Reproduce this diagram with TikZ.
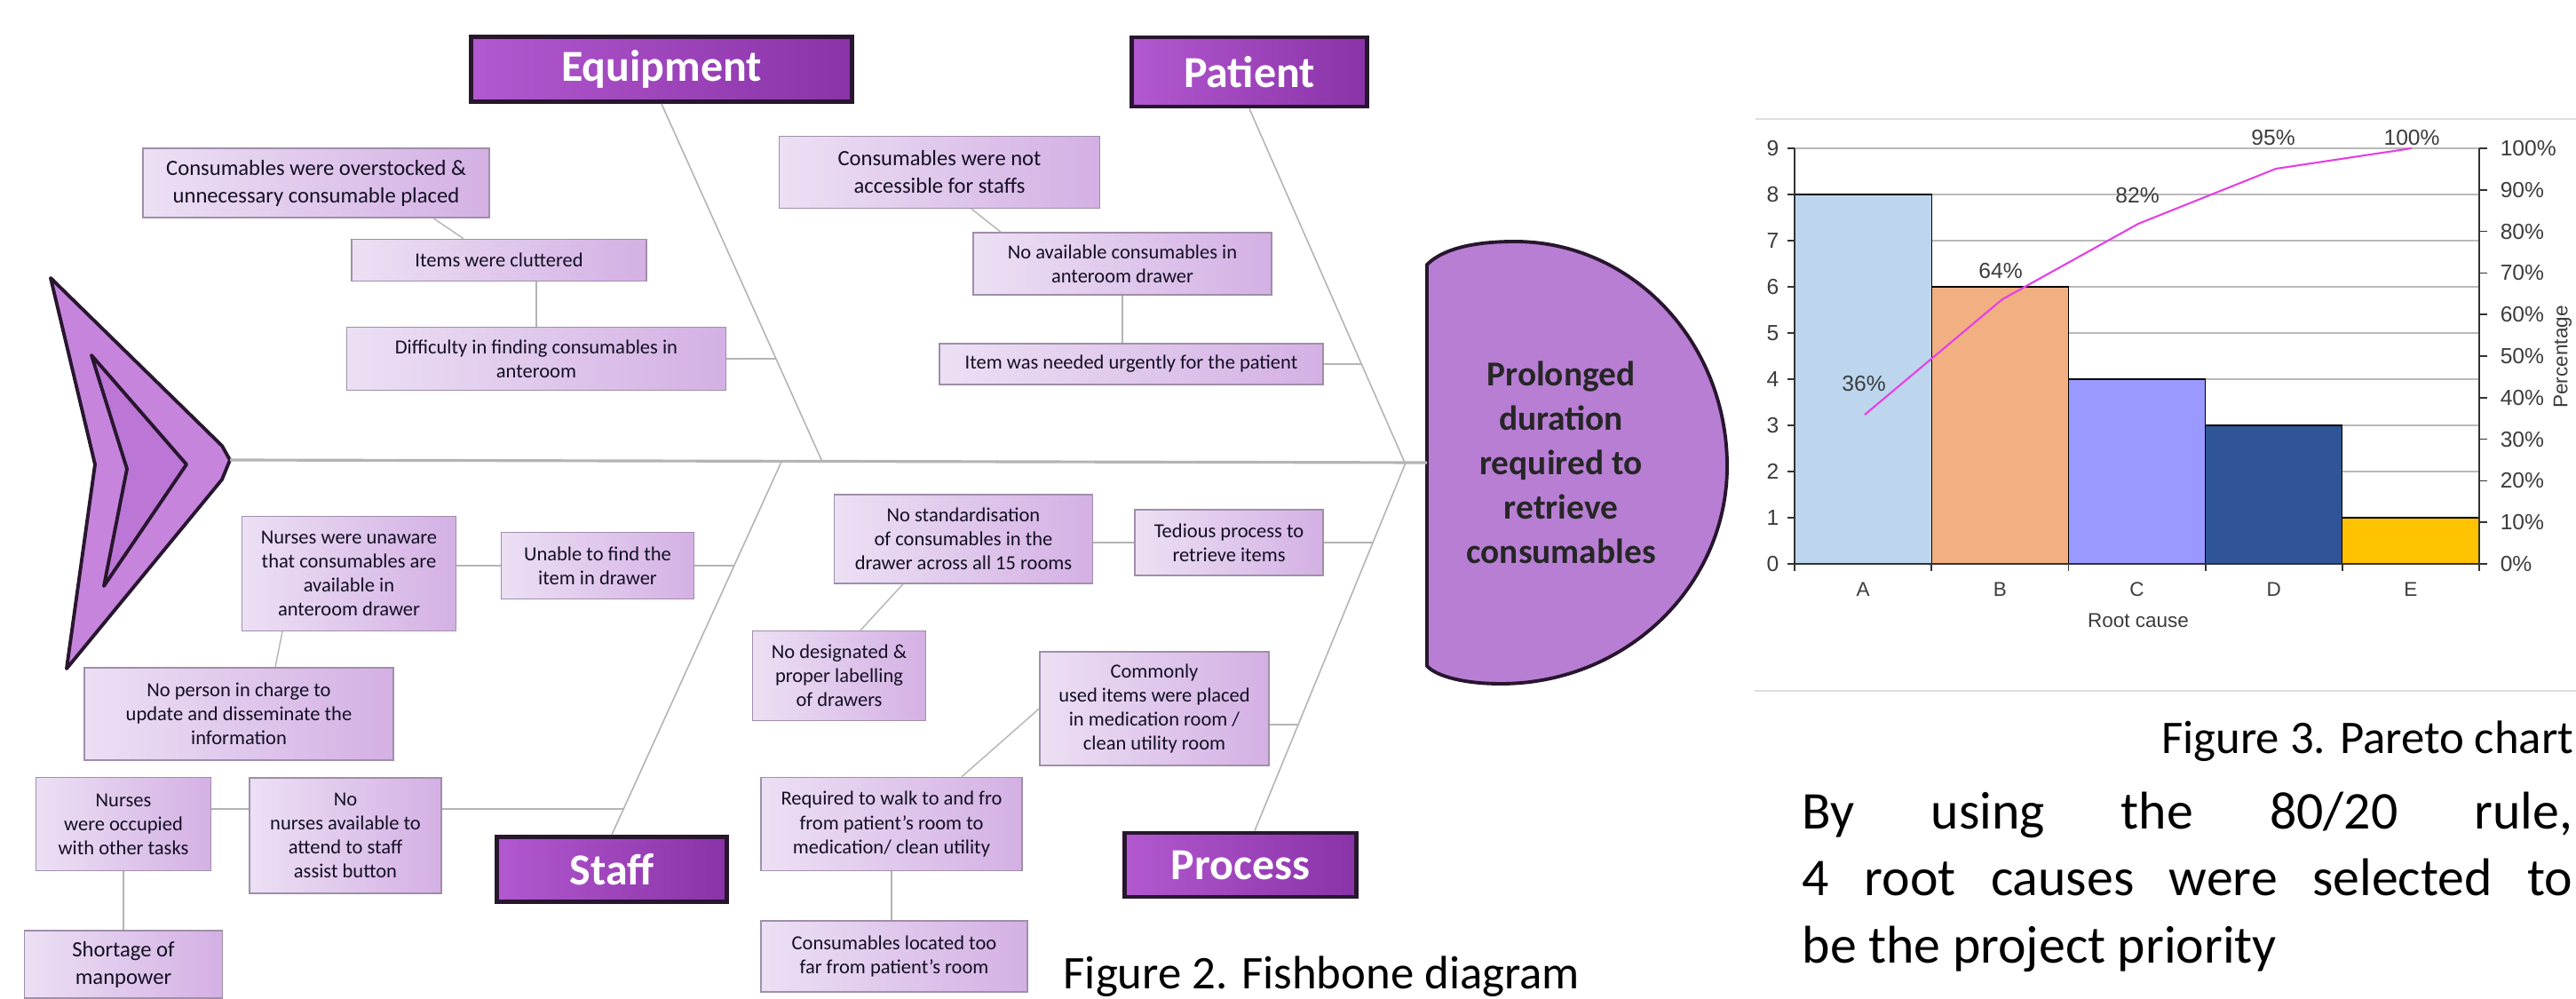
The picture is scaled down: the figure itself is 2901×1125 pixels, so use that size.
\documentclass[tikz,border=0pt]{standalone}
\usepackage{fontspec}
\setmainfont{Carlito}
\newfontfamily\chartfont{Liberation Sans}
\usepackage{tikz}
\usetikzlibrary{positioning}

\definecolor{catlight}{RGB}{178,88,208}
\definecolor{catdark}{RGB}{138,50,168}
\definecolor{catline}{RGB}{40,22,46}
\definecolor{boxlight}{RGB}{236,224,244}
\definecolor{boxdark}{RGB}{212,176,228}
\definecolor{boxline}{RGB}{160,142,170}
\definecolor{boxtext}{RGB}{20,16,36}
\definecolor{headfill}{RGB}{184,126,212}
\definecolor{tailfill}{RGB}{198,132,220}
\definecolor{tailinner}{RGB}{188,118,214}
\definecolor{boneline}{RGB}{180,180,180}
\definecolor{barA}{RGB}{189,214,238}
\definecolor{barB}{RGB}{242,176,130}
\definecolor{barC}{RGB}{153,153,255}
\definecolor{barD}{RGB}{48,84,152}
\definecolor{barE}{RGB}{255,194,0}
\definecolor{paretoline}{RGB}{228,64,228}
\definecolor{charttext}{RGB}{60,60,60}

\begin{document}
\begin{tikzpicture}
        [x=0.01cm, y=-0.01cm,
        % every node/.style={draw=red},
        cause/.style={draw=boxline, line width=0.4pt, left color=boxlight, right color=boxdark,
            text=boxtext, align=center, inner sep=0pt, font=\fontsize{6.4}{7.7}\selectfont},
        bigcause/.style={cause, font=\fontsize{7}{8.8}\selectfont},
        category/.style={draw=catline, line width=1.4pt, left color=catlight, right color=catdark,
            text=white, inner sep=0pt, font=\fontsize{14.2}{17}\selectfont\bfseries},
        spine/.style={draw=boneline, line width=0.9pt},
        bone/.style={draw=boneline, line width=0.45pt},
        twig/.style={draw=boneline, line width=0.4pt},
        grid/.style={draw=gray!55, line width=0.6pt},
        axis/.style={draw=black!80, line width=0.5pt},
        bar/.style={draw=black, line width=0.35pt},
        chartlabel/.style={text=charttext, inner sep=0pt, font=\chartfont\fontsize{7}{8}\selectfont}]
        \useasboundingbox (0,0) rectangle (2901,1125);
        \fill[white] (0,0) rectangle (2901,1125);

        % tail and head
        \filldraw[fill=tailfill, draw=catline, line width=1.1pt, line join=round]
            (57,313) -- (250,502) -- (259,518) -- (250,540) -- (75,753) -- (107,523) -- cycle;
        \filldraw[fill=tailinner, draw=catline, line width=1.1pt, line join=round]
            (103,400) -- (210,523) -- (117,660) -- (143,528) -- cycle;
        \coordinate (tailend) at (259,518);
        \filldraw[fill=headfill, draw=catline, line width=1.1pt]
            (1607,750) -- (1607,298) .. controls (1625,280) and (1660,272) .. (1706,272)
            .. controls (1838,272) and (1945,385) .. (1945,525)
            .. controls (1945,660) and (1831,770) .. (1690,770)
            .. controls (1650,770) and (1618,762) .. (1607,750) -- cycle;
        \coordinate (headend) at (1607,521);
        \node [font=\fontsize{11.2}{14.2}\selectfont\bfseries, align=center, text=black!85] (effect)
            at (1758,521) {Prolonged\\duration\\required to\\retrieve\\consumables};

        % categories
        \node [category, minimum width=4.28cm, minimum height=0.73cm] (equip) at (745,78) {Equipment};
        \node [category, minimum width=2.64cm, minimum height=0.78cm] (patient) at (1407,81) {Patient};
        \node [category, minimum width=2.58cm, minimum height=0.73cm] (staff) at (689,979) {Staff};
        \node [category, minimum width=2.60cm, minimum height=0.72cm] (process) at (1397,974) {Process};

        % causes
        \node [bigcause, minimum width=3.90cm, minimum height=0.78cm] (over) at (356,206)
            {Consumables were overstocked \&\\unnecessary consumable placed};
        \node [cause, minimum width=3.32cm, minimum height=0.47cm] (clutter) at (562,293)
            {Items were cluttered};
        \node [cause, minimum width=4.27cm, minimum height=0.71cm] (diffic) at (604,404)
            {Difficulty in finding consumables in\\anteroom};
        \node [bigcause, minimum width=3.61cm, minimum height=0.81cm] (notacc) at (1058,194)
            {Consumables were not\\accessible for staffs};
        \node [cause, minimum width=3.36cm, minimum height=0.70cm] (noavail) at (1264,297)
            {No available consumables in\\anteroom drawer};
        \node [cause, minimum width=4.32cm, minimum height=0.46cm] (urgent) at (1274,410)
            {Item was needed urgently for the patient};
        \node [cause, minimum width=2.41cm, minimum height=1.29cm] (unaware) at (393,646)
            {Nurses were unaware\\that consumables are\\available in\\anteroom drawer};
        \node [cause, minimum width=2.17cm, minimum height=0.75cm] (unable) at (673,637)
            {Unable to find the\\item in drawer};
        \node [cause, minimum width=3.48cm, minimum height=1.04cm] (noperson) at (269,804)
            {No person in charge to\\update and disseminate the\\information};
        \node [cause, minimum width=1.97cm, minimum height=1.05cm] (occupied) at (139,928)
            {Nurses\\were occupied\\with other tasks};
        \node [cause, minimum width=2.16cm, minimum height=1.30cm] (nonurse) at (389,941)
            {No\\nurses available to\\attend to staff\\assist button};
        \node [bigcause, minimum width=2.23cm, minimum height=0.76cm] (shortage) at (139,1086)
            {Shortage of\\manpower};
        \node [cause, minimum width=2.91cm, minimum height=1.00cm] (nostd) at (1085,607)
            {No standardisation\\of consumables in the\\drawer across all 15 rooms};
        \node [cause, minimum width=2.12cm, minimum height=0.74cm] (tedious) at (1384,611)
            {Tedious process to\\retrieve items};
        \node [cause, minimum width=1.95cm, minimum height=1.01cm] (nodesig) at (945,761)
            {No designated \&\\proper labelling\\of drawers};
        \node [cause, minimum width=2.58cm, minimum height=1.28cm] (common) at (1300,798)
            {Commonly\\used items were placed\\in medication room /\\clean utility room};
        \node [cause, minimum width=2.94cm, minimum height=1.05cm] (walk) at (1004,928)
            {Required to walk to and fro\\from patient's room to\\medication/ clean utility};
        \node [cause, minimum width=3.00cm, minimum height=0.80cm] (toofar) at (1007,1077)
            {Consumables located too\\far from patient's room};

        % bones
        \coordinate (eqj) at (926,520);
        \coordinate (pj) at (1582,521);
        \coordinate (sj) at (880,520);
        \coordinate (prj) at (1583,521);
        \coordinate (eqb) at (874,404);
        \coordinate (pb) at (1534,410);
        \coordinate (sb1) at (827,637);
        \coordinate (sb2) at (703,911);
        \coordinate (prb1) at (1546,611);
        \coordinate (prb2) at (1463,816);
        \draw[spine] (tailend) -- (headend);
        \draw[bone] (equip.south) -- (eqj);
        \draw[bone] (patient.south) -- (pj);
        \draw[bone] (staff.north) -- (sj);
        \draw[bone] (process.north) ++(16,0) -- (prj);

        \draw[twig] ([xshift=1.32cm]over.south) -- ([xshift=-0.40cm]clutter.north);
        \draw[twig] (diffic.north |- clutter.south) -- (diffic.north);
        \draw[twig] (diffic.east) -- (eqb);
        \draw[twig] ([xshift=0.36cm]notacc.south) -- ([xshift=-1.37cm]noavail.north);
        \draw[twig] (noavail.south) -- (noavail.south |- urgent.north);
        \draw[twig] (urgent.east) -- (pb);
        \draw[twig] (unaware.east |- sb1) -- (unable.west |- sb1);
        \draw[twig] (unable.east |- sb1) -- (sb1);
        \draw[twig] ([xshift=-0.75cm]unaware.south) -- ([xshift=0.41cm]noperson.north);
        \draw[twig] (occupied.east |- sb2) -- (nonurse.west |- sb2);
        \draw[twig] (nonurse.east |- sb2) -- (sb2);
        \draw[twig] (occupied.south) -- (occupied.south |- shortage.north);
        \draw[twig] (nostd.east |- prb1) -- (tedious.west |- prb1);
        \draw[twig] (tedious.east |- prb1) -- (prb1);
        \draw[twig] ([xshift=-0.68cm]nostd.south) -- ([xshift=0.24cm]nodesig.north);
        \draw[twig] (common.east |- prb2) -- (prb2);
        \draw[twig] ([xshift=0.79cm]walk.north) -- (common.west);
        \draw[twig] (walk.south) -- (walk.south |- toofar.north);

        \node [anchor=base west, inner sep=0pt, font=\fontsize{15}{18}\selectfont] (fig2)
            at (1197,1113) {Figure 2. Fishbone diagram};

        % pareto chart
        \draw[gray!25, line width=0.8pt] (1977,134) -- (2901,134);
        \draw[gray!25, line width=0.8pt] (1976,778) -- (2901,778);
        \foreach \v in {1,...,9}
            \draw[grid] (2021,{635-52*\v}) -- (2792,{635-52*\v});
        \foreach \lab/\val/\col [count=\i from 0] in {A/8/barA, B/6/barB, C/4/barC, D/3/barD, E/1/barE}
        {
            \filldraw[bar, fill=\col] ({2021+154.2*\i},635) rectangle ({2175.2+154.2*\i},{635-52*\val});
            \node [chartlabel, font=\chartfont\fontsize{6.4}{8}\selectfont] (cat\lab)
                at ({2098.1+154.2*\i},664) {\lab};
        }
        \draw[axis] (2021,167) -- (2021,635) -- (2792,635) -- (2792,167);
        \foreach \v in {0,...,9}
        {
            \draw[axis] (2013,{635-52*\v}) -- (2021,{635-52*\v});
            \node [chartlabel, anchor=east] (ylab\v) at (2004,{635-52*\v}) {\v};
        }
        \foreach \p in {0,...,10}
        {
            \pgfmathtruncatemacro{\pct}{10*\p}
            \draw[axis] (2792,{635-46.8*\p}) -- (2801,{635-46.8*\p});
            \node [chartlabel, anchor=west] (plab\p) at (2815,{635-46.8*\p}) {\pct\%};
        }
        \foreach \i in {0,...,5}
            \draw[axis] ({2021+154.2*\i},635) -- ({2021+154.2*\i},643);
        \draw[paretoline, line width=0.6pt, line join=round]
            (2100,467) -- (2255,337) -- (2408,252) -- (2563,190) -- (2716,167);
        \foreach \x/\y/\t in {2099/432/36, 2253/305/64, 2407/220/82, 2560/155/95, 2716/155/100}
            \node [chartlabel] (val\t) at (\x,\y) {\t\%};
        \node [chartlabel, font=\chartfont\fontsize{6.4}{8}\selectfont] (xtitle) at (2408,699) {Root cause};
        \node [chartlabel, rotate=90, font=\chartfont\fontsize{6.4}{8}\selectfont] (ytitle) at (2886,402) {Percentage};

        \node [anchor=base east, inner sep=0pt, font=\fontsize{15}{18}\selectfont] (fig3)
            at (2899,848) {Figure 3. Pareto chart};
        \node [anchor=base west, inner sep=0pt, text width=8.67cm, align=justify,
            font=\fontsize{17}{21.6}\selectfont] (summary) at (2029,933)
            {By using the 80/20 rule,\linebreak 4 root causes were selected to\linebreak be the project priority};
\end{tikzpicture}
\end{document}
